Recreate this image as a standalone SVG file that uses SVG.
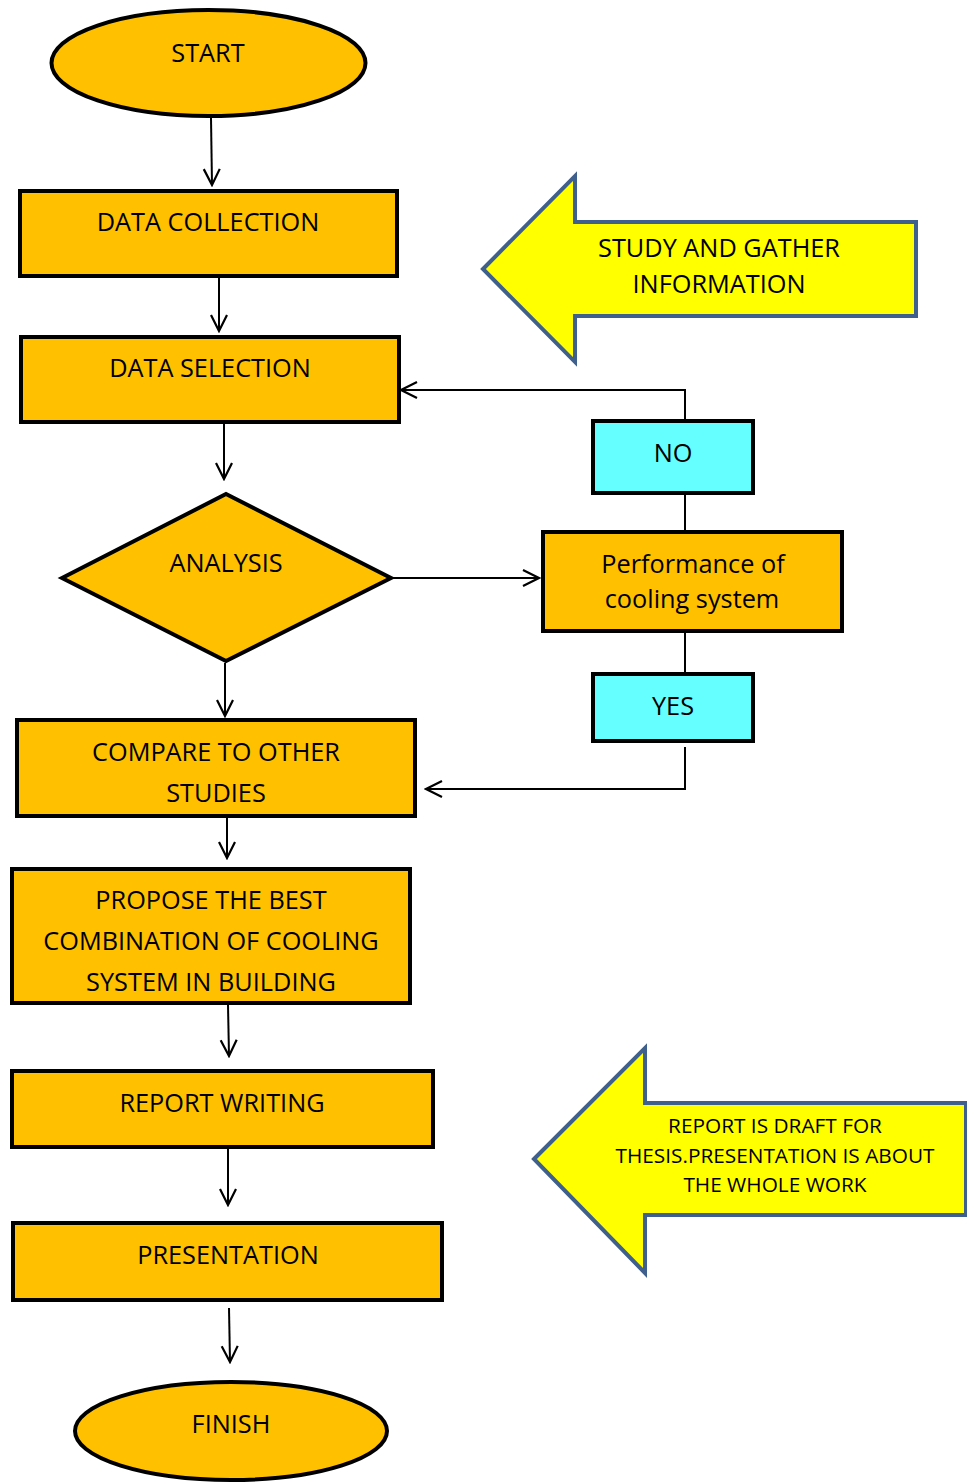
<svg xmlns="http://www.w3.org/2000/svg" width="967" height="1482" viewBox="0 0 967 1482">
<defs>
<marker id="open" viewBox="0 0 20 20" refX="18" refY="10" markerWidth="20" markerHeight="20" markerUnits="userSpaceOnUse" orient="auto">
<path d="M2,2 L18,10 L2,18" fill="none" stroke="#000" stroke-width="2.2"/>
</marker>
</defs>
<style>
.n{fill:#FFC000;stroke:#000;stroke-width:4}
.c{fill:#66FFFF;stroke:#000;stroke-width:4}
.y{fill:#FFFF00;stroke:#3F5F8C;stroke-width:4;stroke-linejoin:miter}
text{font-family:"Open Sans","Liberation Sans",sans-serif;font-size:25.3px;fill:#000;text-anchor:middle}
.s{font-size:20.8px}
.l{fill:none;stroke:#000;stroke-width:2}
.a{fill:none;stroke:#000;stroke-width:2;marker-end:url(#open)}
</style>
<rect width="967" height="1482" fill="#fff"/>
<g id="connectors">
<line class="a" x1="211" y1="118" x2="212" y2="185"/>
<line class="a" x1="219" y1="278" x2="219" y2="331"/>
<line class="a" x1="224" y1="424" x2="224" y2="479"/>
<line class="a" x1="391" y1="578" x2="539" y2="578"/>
<line class="a" x1="225" y1="663" x2="225" y2="716"/>
<polyline class="a" points="685,421 685,390 401,390"/>
<line class="l" x1="685" y1="494" x2="685" y2="532"/>
<line class="l" x1="685" y1="631" x2="685" y2="674"/>
<polyline class="a" points="685,747 685,789 426,789"/>
<line class="a" x1="227" y1="818" x2="227" y2="858"/>
<line class="a" x1="228" y1="1005" x2="229" y2="1056"/>
<line class="a" x1="228" y1="1149" x2="228" y2="1205"/>
<line class="a" x1="229" y1="1308" x2="230" y2="1362"/>
</g>
<g id="start">
<ellipse class="n" cx="208.5" cy="63" rx="157" ry="53"/>
<text x="208" y="62">START</text>
</g>
<g id="data-collection">
<rect class="n" x="20" y="191" width="377" height="85"/>
<text x="208" y="231">DATA COLLECTION</text>
</g>
<g id="data-selection">
<rect class="n" x="21" y="337" width="378" height="85"/>
<text x="210" y="377">DATA SELECTION</text>
</g>
<g id="analysis">
<polygon class="n" points="62,578 226,494 391,578 226,661"/>
<text x="226" y="572">ANALYSIS</text>
</g>
<g id="performance">
<rect class="n" x="543" y="532" width="299" height="99"/>
<text x="693" y="573">Performance of</text>
<text x="692" y="608">cooling system</text>
</g>
<g id="no">
<rect class="c" x="593" y="421" width="160" height="72"/>
<text x="673" y="462">NO</text>
</g>
<g id="yes">
<rect class="c" x="593" y="674" width="160" height="67"/>
<text x="673" y="715">YES</text>
</g>
<g id="compare">
<rect class="n" x="17" y="720" width="398" height="96"/>
<text x="216" y="761">COMPARE TO OTHER</text>
<text x="216" y="802">STUDIES</text>
</g>
<g id="propose">
<rect class="n" x="12" y="869" width="398" height="134"/>
<text x="211" y="909">PROPOSE THE BEST</text>
<text x="211" y="950">COMBINATION OF COOLING</text>
<text x="211" y="991">SYSTEM IN BUILDING</text>
</g>
<g id="report-writing">
<rect class="n" x="12" y="1071" width="421" height="76"/>
<text x="222" y="1112">REPORT WRITING</text>
</g>
<g id="presentation">
<rect class="n" x="13" y="1223" width="429" height="77"/>
<text x="228" y="1264">PRESENTATION</text>
</g>
<g id="finish">
<ellipse class="n" cx="231" cy="1431" rx="156" ry="49"/>
<text x="231" y="1433">FINISH</text>
</g>
<g id="study-arrow">
<polygon class="y" points="483,269 575,176 575,222 916,222 916,316 575,316 575,362"/>
<text x="719" y="257">STUDY AND GATHER</text>
<text x="719" y="293">INFORMATION</text>
</g>
<g id="report-arrow">
<polygon class="y" points="534,1159 645,1048 645,1103 966,1103 966,1215 645,1215 645,1273"/>
<text class="s" x="775" y="1133">REPORT IS DRAFT FOR</text>
<text class="s" x="775" y="1163">THESIS.PRESENTATION IS ABOUT</text>
<text class="s" x="775" y="1192">THE WHOLE WORK</text>
</g>
</svg>
